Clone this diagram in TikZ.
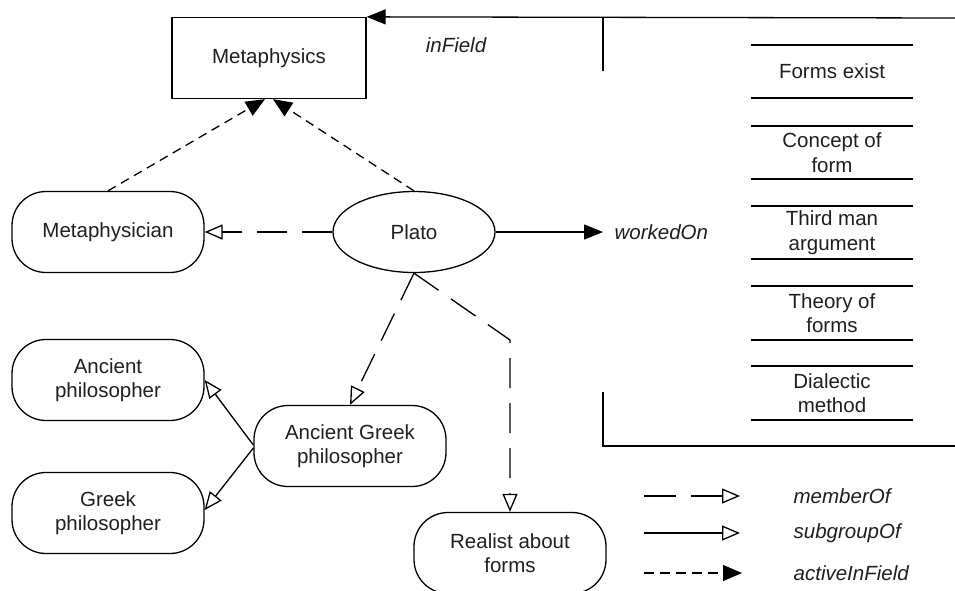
\documentclass[tikz,border=0pt]{standalone}
\usepackage{fontspec}
\setmainfont{Liberation Sans}
\usetikzlibrary{arrows.meta,calc,shapes.geometric}
\begin{document}
\begin{tikzpicture}[x=1pt,y=-1pt,
  line width=1.3pt,
  txt/.style={font=\fontsize{20.5}{24.5}\selectfont, text=black!88, align=center},
  rnd/.style={txt, draw, rounded corners=34pt, minimum width=192pt, minimum height=81pt, inner sep=2pt},
  ell/.style={txt, draw, ellipse, minimum width=162pt, minimum height=81pt, inner sep=0pt},
  sqbox/.style={txt, draw, minimum width=194pt, minimum height=81pt},
  lbl/.style={txt, font=\fontsize{20.5}{24.5}\selectfont\itshape, inner sep=0pt},
  member/.style={dash pattern=on 30pt off 15pt, -{Triangle[open, length=18pt, width=15pt]}},
  subgrp/.style={-{Triangle[open, length=18pt, width=15pt]}},
  active/.style={dash pattern=on 9pt off 6pt, -{Triangle[length=19pt, width=16pt]}},
  solidarr/.style={-{Triangle[length=19pt, width=15pt]}},
  itemline/.style={line width=1.3pt},
]
\useasboundingbox (0,0) rectangle (955,590);

% nodes
\node[sqbox] (meta) at (269,58) {Metaphysics};
\node[rnd] (metan) at (108,232) {Metaphysician};
\node[ell] (plato) at (414,232) {Plato};
\node[rnd] (anc) at (108,380) {Ancient\\philosopher};
\node[rnd] (greek) at (108,513) {Greek\\philosopher};
\node[rnd] (agp) at (350,446) {Ancient Greek\\philosopher};
\node[rnd] (real) at (510,553) {Realist about\\forms};

\node[lbl, anchor=west] (worked) at (614,232) {workedOn};
\node[lbl] (infield) at (456,45) {inField};

% right column items
\node[txt] (f1) at (832,71.5) {Forms exist};
\node[txt] (f2) at (832,152.5) {Concept of\\form};
\node[txt] (f3) at (832,232.5) {Third man\\argument};
\node[txt] (f4) at (832,313) {Theory of\\forms};
\node[txt] (f5) at (832,393) {Dialectic\\method};
\foreach \y in {45,98,126,179,206,259,286,340,366,420}{
  \draw[itemline] (751,\y) -- (913,\y);
}

% bracket and inField line
\coordinate (topR) at (955,18);
\coordinate (vt1) at (603,18);
\coordinate (vt2) at (603,71);
\coordinate (vb1) at (603,392);
\coordinate (vb2) at (603,446);
\coordinate (hb2) at (955,446);
\draw[solidarr] (topR) -- (meta.north east);
\draw (vt1) -- (vt2);
\draw (vb1) -- (vb2) -- (hb2);

% connectors
\draw[active] (metan.north) -- ($(meta.south)+(-4,0)$);
\draw[active] (plato.north) -- ($(meta.south)+(4,0)$);
\draw[member] (plato.west) -- (metan.east);
\draw[solidarr] (plato.east) -- ($(worked.west)+(-11,0)$);
\draw[member] (plato.south) -- (agp.north);
\coordinate (bend) at (510,340);
\draw[member] (plato.south) -- (bend) -- (real.north);
\draw[subgrp] ($(agp.west)+(0,-1)$) -- (anc.east);
\draw[subgrp] ($(agp.west)+(0,2)$) -- ($(greek.east)+(0,-3)$);

% legend
\coordinate (l1a) at (644,496); \coordinate (l1b) at (740,496);
\coordinate (l2a) at (644,533); \coordinate (l2b) at (740,533);
\coordinate (l3a) at (644,573); \coordinate (l3b) at (742,573);
\draw[dash pattern=on 32pt off 15pt, -{Triangle[open, length=18pt, width=15pt]}] (l1a) -- (l1b);
\draw[subgrp] (l2a) -- (l2b);
\draw[dash pattern=on 10pt off 6pt, -{Triangle[length=19pt, width=16pt]}] (l3a) -- (l3b);
\node[lbl, anchor=west] (lg1) at (793,496) {memberOf};
\node[lbl, anchor=west] (lg2) at (793,533) {subgroupOf};
\node[lbl, anchor=west] (lg3) at (793,573) {activeInField};
\end{tikzpicture}
\end{document}
